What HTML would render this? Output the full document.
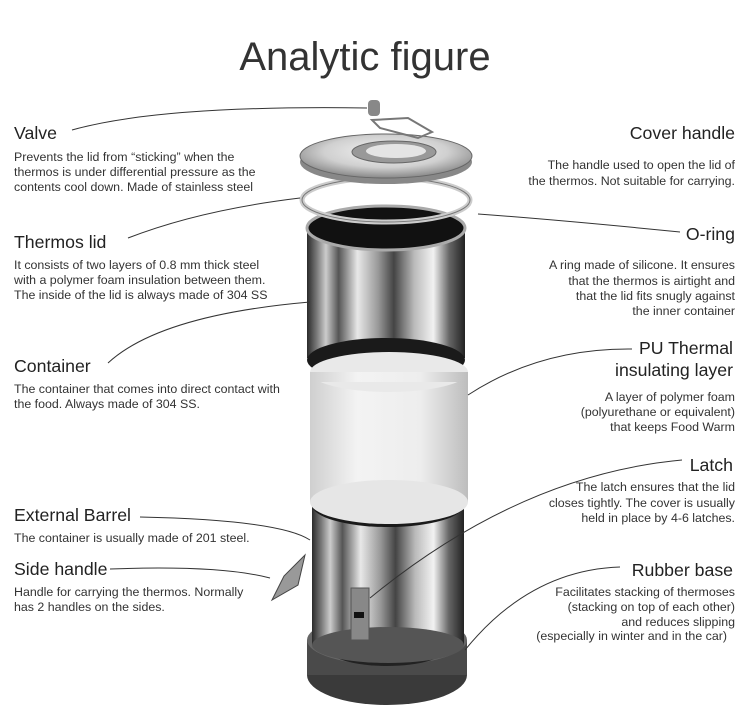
<!DOCTYPE html>
<html><head><meta charset="utf-8"><style>
html,body{margin:0;padding:0;background:#fff;}
svg{display:block}
text{font-family:"Liberation Sans",Arial,sans-serif;fill:#222}
.h{font-size:17.7px}
.d{font-size:12.4px;fill:#333}
.r{text-anchor:end}
</style></head><body>
<svg width="750" height="724" viewBox="0 0 750 724" xmlns="http://www.w3.org/2000/svg">
<defs>
<linearGradient id="chrome" x1="0" x2="1" y1="0" y2="0">
<stop offset="0" stop-color="#2a2a2a"/><stop offset="0.06" stop-color="#777"/>
<stop offset="0.12" stop-color="#ccc"/><stop offset="0.2" stop-color="#555"/>
<stop offset="0.32" stop-color="#e8e8e8"/><stop offset="0.45" stop-color="#999"/>
<stop offset="0.55" stop-color="#444"/><stop offset="0.68" stop-color="#bbb"/>
<stop offset="0.8" stop-color="#f2f2f2"/><stop offset="0.9" stop-color="#666"/>
<stop offset="1" stop-color="#222"/></linearGradient>
<linearGradient id="white" x1="0" x2="1"><stop offset="0" stop-color="#cfcfcf"/><stop offset="0.3" stop-color="#f3f3f3"/><stop offset="0.7" stop-color="#ededed"/><stop offset="1" stop-color="#bdbdbd"/></linearGradient>
<radialGradient id="lid" cx="0.5" cy="0.4" r="0.6"><stop offset="0" stop-color="#f4f4f4"/><stop offset="0.6" stop-color="#d0d0d0"/><stop offset="1" stop-color="#888"/></radialGradient>
</defs>
<text x="365" y="70" text-anchor="middle" style="font-size:40px;fill:#333">Analytic figure</text>

<ellipse cx="387" cy="675" rx="80" ry="30" fill="#3a3a3a"/>
<rect x="307" y="640" width="160" height="35" fill="#4a4a4a"/>
<ellipse cx="387" cy="640" rx="80" ry="25" fill="#666"/>
<ellipse cx="387" cy="648" rx="60" ry="18" fill="#222"/>
<rect x="312" y="505" width="152" height="140" fill="url(#chrome)"/>
<ellipse cx="388" cy="645" rx="76" ry="18" fill="#555"/>
<ellipse cx="388" cy="505" rx="76" ry="22" fill="#1a1a1a"/>
<rect x="351" y="588" width="18" height="52" fill="#888" stroke="#555"/>
<rect x="354" y="612" width="10" height="6" fill="#111"/>
<rect x="310" y="372" width="158" height="130" fill="url(#white)"/>
<ellipse cx="389" cy="502" rx="79" ry="22" fill="#e6e6e6"/>
<rect x="307" y="228" width="158" height="130" fill="url(#chrome)"/>
<ellipse cx="386" cy="360" rx="79" ry="22" fill="#1a1a1a"/>
<ellipse cx="389" cy="372" rx="79" ry="20" fill="#e9e9e9"/>
<rect x="310" y="372" width="158" height="10" fill="url(#white)"/>
<ellipse cx="386" cy="228" rx="79" ry="22" fill="#111" stroke="#aaa" stroke-width="3"/>
<ellipse cx="386" cy="200" rx="84" ry="22" fill="none" stroke="#ccc" stroke-width="5"/>
<ellipse cx="386" cy="200" rx="84" ry="22" fill="none" stroke="#777" stroke-width="1"/>
<ellipse cx="386" cy="162" rx="86" ry="22" fill="#888"/>
<ellipse cx="386" cy="156" rx="86" ry="22" fill="url(#lid)" stroke="#666"/>
<ellipse cx="394" cy="152" rx="42" ry="11" fill="#999" stroke="#666"/>
<ellipse cx="396" cy="151" rx="30" ry="7" fill="#e4e4e4"/>
<path d="M372 120 L408 118 L432 132 L418 138 L380 128 Z" fill="none" stroke="#777" stroke-width="2"/>
<rect x="368" y="100" width="12" height="16" rx="4" fill="#888"/>
<path d="M272 600 L284 576 L305 555 L298 585 Z" fill="#999" stroke="#444"/>

<g fill="none" stroke="#333" stroke-width="1">
<path d="M72 130 Q160 105 367 108"/>
<path d="M128 238 Q200 210 300 198"/>
<path d="M108 363 Q160 315 310 302"/>
<path d="M140 517 Q280 520 310 540"/>
<path d="M110 569 Q220 565 270 578"/>
<path d="M478 214 Q560 220 680 232"/>
<path d="M468 395 Q540 348 632 349"/>
<path d="M370 598 Q520 475 682 460"/>
<path d="M465 650 Q530 570 620 567"/>
</g>

<text class="h" x="14" y="139">Valve</text>
<text class="d" x="14" y="161">Prevents the lid from “sticking” when the</text>
<text class="d" x="14" y="176">thermos is under differential pressure as the</text>
<text class="d" x="14" y="191">contents cool down. Made of stainless steel</text>
<text class="h" x="14" y="248">Thermos lid</text>
<text class="d" x="14" y="269">It consists of two layers of 0.8 mm thick steel</text>
<text class="d" x="14" y="284">with a polymer foam insulation between them.</text>
<text class="d" x="14" y="299">The inside of the lid is always made of 304 SS</text>
<text class="h" x="14" y="372">Container</text>
<text class="d" x="14" y="393">The container that comes into direct contact with</text>
<text class="d" x="14" y="408">the food. Always made of 304 SS.</text>
<text class="h" x="14" y="521">External Barrel</text>
<text class="d" x="14" y="542">The container is usually made of 201 steel.</text>
<text class="h" x="14" y="575">Side handle</text>
<text class="d" x="14" y="596">Handle for carrying the thermos. Normally</text>
<text class="d" x="14" y="611">has 2 handles on the sides.</text>

<text class="h r" x="735" y="139">Cover handle</text>
<text class="d r" x="735" y="169">The handle used to open the lid of</text>
<text class="d r" x="735" y="185">the thermos. Not suitable for carrying.</text>
<text class="h r" x="735" y="240">O-ring</text>
<text class="d r" x="735" y="269">A ring made of silicone. It ensures</text>
<text class="d r" x="735" y="285">that the thermos is airtight and</text>
<text class="d r" x="735" y="300">that the lid fits snugly against</text>
<text class="d r" x="735" y="315">the inner container</text>
<text class="h r" x="733" y="354">PU Thermal</text>
<text class="h r" x="733" y="376">insulating layer</text>
<text class="d r" x="735" y="401">A layer of polymer foam</text>
<text class="d r" x="735" y="416">(polyurethane or equivalent)</text>
<text class="d r" x="735" y="431">that keeps Food Warm</text>
<text class="h r" x="733" y="471">Latch</text>
<text class="d r" x="735" y="491">The latch ensures that the lid</text>
<text class="d r" x="735" y="507">closes tightly. The cover is usually</text>
<text class="d r" x="735" y="522">held in place by 4-6 latches.</text>
<text class="h r" x="733" y="576">Rubber base</text>
<text class="d r" x="735" y="596">Facilitates stacking of thermoses</text>
<text class="d r" x="735" y="611">(stacking on top of each other)</text>
<text class="d r" x="735" y="626">and reduces slipping</text>
<text class="d r" x="727" y="640">(especially in winter and in the car)</text>
</svg>
</body></html>
